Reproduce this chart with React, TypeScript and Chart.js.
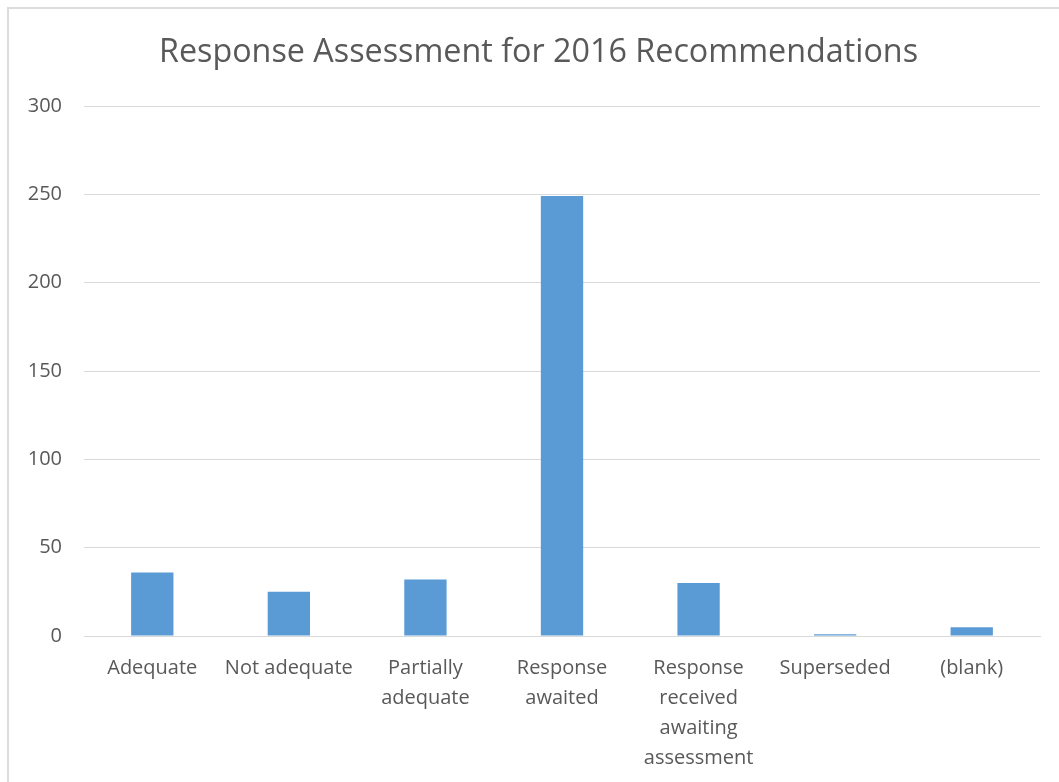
import React, { useEffect, useRef } from "react";
import { Chart, registerables } from "chart.js";

Chart.register(...registerables);

const categories: (string | string[])[] = [
  "Adequate",
  "Not adequate",
  ["Partially", "adequate"],
  ["Response", "awaited"],
  ["Response", "received", "awaiting", "assessment"],
  "Superseded",
  "(blank)",
];
const counts: number[] = [36, 25, 32, 249, 30, 1, 5];
const titleText = "Response Assessment for 2016 Recommendations";
const yMin = 0;
const yMax = 300;
const yStep = 50;

const FONT = "'Open Sans', 'Liberation Sans', sans-serif";
const TEXT = "#595959";
const GRID = "#d9d9d9";
const BAR = "#5b9bd5";

const titlePlugin = {
  id: "customTitle",
  afterDraw(chart: any) {
    const ctx = chart.ctx;
    ctx.save();
    ctx.fillStyle = TEXT;
    ctx.font = `normal 32.3px ${FONT}`;
    ctx.textAlign = "center";
    ctx.textBaseline = "middle";
    ctx.fillText(titleText, (chart.chartArea.left + chart.width) / 2 - 33, 44);
    ctx.restore();
  },
};

export default function App() {
  const ref = useRef<HTMLCanvasElement | null>(null);

  useEffect(() => {
    if (!ref.current) return;
    const chart = new Chart(ref.current, {
      type: "bar",
      data: {
        labels: categories,
        datasets: [
          {
            data: counts,
            backgroundColor: BAR,
            borderWidth: 0,
            barPercentage: 0.31,
            categoryPercentage: 1,
          },
        ],
      },
      options: {
        animation: false,
        responsive: false,
        maintainAspectRatio: false,
        layout: { padding: { left: 0, right: 19, top: 97, bottom: 0 } },
        plugins: {
          legend: { display: false },
          tooltip: { enabled: false },
          title: { display: false },
        },
        scales: {
          x: {
            grid: { display: false, drawTicks: false },
            border: { display: true, color: GRID, width: 1 },
            ticks: {
              color: TEXT,
              font: { family: FONT, size: 20, lineHeight: 1.5 },
              padding: 17,
              maxRotation: 0,
              minRotation: 0,
              autoSkip: false,
            },
            afterFit: (s: any) => {
              s.height = 146;
            },
          },
          y: {
            min: yMin,
            max: yMax,
            grid: { color: GRID, lineWidth: 1, drawTicks: false },
            border: { display: false },
            ticks: {
              stepSize: yStep,
              color: TEXT,
              font: { family: FONT, size: 20 },
              padding: 22,
            },
            afterFit: (s: any) => {
              s.width = 75;
            },
          },
        },
      },
      plugins: [titlePlugin],
    });
    return () => chart.destroy();
  }, []);

  return (
    <div
      style={{
        position: "fixed",
        left: 7,
        top: 7,
        right: 0,
        bottom: 0,
        borderTop: "2px solid #dcdcdc",
        borderLeft: "2px solid #dcdcdc",
        background: "#fff",
      }}
    >
      <canvas ref={ref} width={1050} height={773} style={{ display: "block" }} />
    </div>
  );
}
